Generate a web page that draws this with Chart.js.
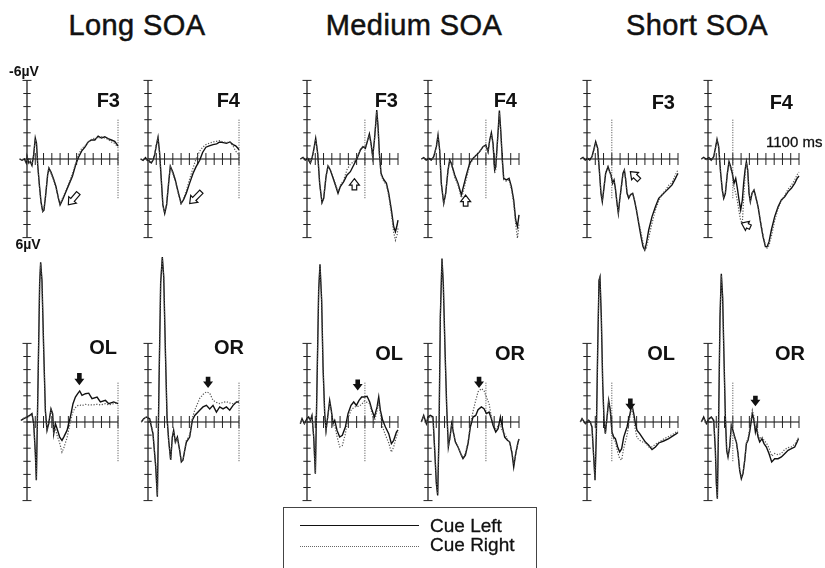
<!DOCTYPE html>
<html>
<head>
<meta charset="utf-8">
<script src="https://cdn.jsdelivr.net/npm/chart.js@4.4.1/dist/chart.umd.min.js"></script>
<style>
  html, body { margin: 0; padding: 0; background: #fff; }
  #fig { position: relative; width: 825px; height: 568px; overflow: hidden; font-family: "Liberation Sans", Arial, sans-serif; color: #111; }
  #fig canvas { position: absolute; }
  .txt { position: absolute; white-space: nowrap; line-height: 1; }
  .legend-box { position: absolute; left: 283px; top: 507px; width: 252px; height: 80px; border: 1px solid #444; }
  .legend-line { position: absolute; left: 300px; width: 119px; height: 0; }
</style>
</head>
<body>
<div id="fig"></div>
<script>
// ---- data (ms, µV; negative plotted up) ----
const soaNames = ['Long SOA', 'Medium SOA', 'Short SOA'];
const targetOnset = [1100, 700, 300];     // dotted vertical marker, one per SOA
const markerSpan = [-3, 3];

const longF3Time  = [-90,-60,-30,-10,0,20,40,60,80,100,115,130,150,170,190,205,225,250,265,290,320,350,380,400,430,470,510,550,590,620,660,700,740,780,820,860,900,940,980,1020,1060,1100];
const longF3Left  = [0,0.1,0,0.3,-0.2,0.3,0.2,0.5,-0.3,-1.6,-1.2,0.5,2.0,3.3,4.0,3.9,2.8,1.2,0.7,1.0,1.5,2.1,3.0,3.5,3.1,2.5,1.9,1.3,0.4,-0.1,-0.6,-0.9,-1.3,-1.45,-1.45,-1.75,-1.6,-1.7,-1.55,-1.45,-1.35,-1.0];
const longF3Right = [0,0,0.1,0.2,-0.1,0.4,0.1,0.4,-0.2,-1.5,-1.1,0.6,2.1,3.4,4.0,3.8,2.7,1.1,0.7,1.1,1.6,2.2,3.0,3.4,3.0,2.4,1.8,1.1,0.3,-0.3,-0.8,-1.0,-1.3,-1.5,-1.6,-1.6,-1.7,-1.6,-1.5,-1.3,-1.2,-0.9];

const longF4Time  = [-90,-60,-30,-10,0,20,40,60,80,100,121,140,160,180,202,225,250,270,300,330,360,400,430,464,500,544,580,625,660,700,740,786,830,867,910,948,990,1028,1060,1089,1100];
const longF4Left  = [0,0.1,-0.1,0.1,0,0.2,0.3,0.1,-0.3,-1.0,-1.65,-0.5,1.5,3.5,4.15,3.5,1.8,0.55,1.0,1.6,2.4,3.4,3.1,2.6,1.9,1.1,0.6,0.1,-0.5,-0.9,-1.0,-1.1,-1.15,-1.3,-1.25,-1.2,-1.3,-1.1,-1.0,-0.8,-0.7];
const longF4Right = [0,0,0,0.1,-0.1,0.3,0.2,0,-0.4,-1.1,-1.6,-0.4,1.6,3.6,4.1,3.4,1.7,0.6,1.1,1.7,2.5,3.4,3.0,2.4,1.6,0.7,0.0,-0.6,-0.9,-1.1,-1.2,-1.3,-1.35,-1.4,-1.3,-1.25,-1.3,-1.0,-0.6,-0.4,-0.3];

const longOLTime  = [-73,-40,0,32,60,81,101,113,133,153,165,181,202,222,242,262,290,310,323,343,363,395,423,444,484,524,556,585,613,637,665,706,746,786,847,887,948,988,1048,1100];
const longOLLeft  = [-0.13,-0.25,-0.38,-0.5,-0.64,0.13,2.4,4.45,-2.9,-10.6,-12.2,-10.8,-5.5,-0.9,0.64,0.13,-1.0,-0.64,0.9,0.13,0.5,1.15,1.4,1.15,0.64,-0.38,-1.4,-1.9,-2.16,-2.37,-2.04,-2.16,-2.2,-1.78,-1.9,-1.53,-1.65,-1.4,-1.53,-1.4];
const longOLRight = [-0.1,-0.3,-0.4,-0.4,-0.6,0.2,2.5,4.4,-3.0,-10.7,-12.1,-10.6,-5.3,-0.8,0.7,0.2,-0.9,-0.5,0.8,0.5,1.0,1.6,2.3,2.0,1.2,0.0,-0.8,-1.1,-1.25,-1.3,-1.25,-1.35,-1.3,-1.3,-1.35,-1.3,-1.4,-1.3,-1.4,-1.45];

const longORTime  = [-81,-52,-20,20,60,93,113,133,153,173,190,210,230,250,274,294,310,331,355,383,403,423,444,464,504,536,565,625,665,706,746,786,827,867,907,948,988,1028,1069,1100];
const longORLeft  = [0,-0.25,-0.38,-0.25,0.9,3.4,5.7,-2.9,-10.6,-12.6,-11.1,-5.5,-0.38,1.4,2.9,1.15,0.64,1.53,1.15,2.16,3.05,2.9,2.16,1.53,1.15,-0.13,-0.5,-0.9,-1.15,-1.27,-1.0,-1.27,-0.76,-1.15,-1.0,-1.15,-0.9,-1.27,-1.53,-1.53];
const longORRight = [0,-0.2,-0.4,-0.2,0.8,3.3,5.6,-3.0,-10.7,-12.5,-11.0,-5.4,-0.3,1.5,2.9,1.2,0.7,1.6,1.2,2.2,3.0,2.9,2.1,1.4,1.0,-0.3,-0.9,-1.8,-2.1,-2.3,-2.2,-1.65,-1.5,-1.4,-1.5,-1.55,-1.45,-1.4,-1.5,-1.55];

const medF3Time  = [-81,-48,-20,8,40,60,81,105,129,153,181,202,230,254,282,310,343,375,403,444,484,524,565,605,645,677,706,734,754,774,794,815,831,843,859,875,895,919,960,988,1020,1048,1069,1089,1100];
const medF3Left  = [0,-0.13,0.08,-0.05,0.33,-0.05,-0.7,-1.58,-0.43,1.86,3.33,3.0,1.35,0.53,0.84,1.35,1.98,2.62,2.11,1.73,1.22,0.97,0.46,-0.05,-0.69,-0.94,-0.81,-1.45,-1.91,-1.2,-0.18,-1.45,-2.72,-3.74,-2.47,-0.43,1.09,1.48,1.86,2.62,3.89,5.17,5.55,5.04,4.66];
const medF3Right = [0,-0.1,0.1,0,0.3,0,-0.6,-1.5,-0.4,1.9,3.3,2.9,1.3,0.5,0.8,1.3,1.9,2.5,2.0,1.6,0.8,0.4,0.2,-0.1,-0.7,-1.0,-0.9,-1.5,-1.8,-1.1,-0.1,-1.4,-2.6,-3.6,-2.4,-0.3,1.2,1.6,2.0,2.8,4.2,5.6,6.2,5.8,5.3];

const medF4Time  = [-81,-52,-20,12,40,69,101,121,141,161,190,214,242,262,282,323,363,403,423,464,504,544,585,625,665,698,726,746,766,786,806,819,835,851,863,879,899,915,948,980,1008,1036,1060,1081,1100];
const medF4Left  = [0,-0.1,0.08,-0.05,0.08,-0.18,-0.94,-1.83,-0.69,1.86,3.38,2.62,0.84,0.08,0.33,1.22,1.86,2.75,2.24,1.22,0.33,-0.05,-0.31,-0.56,-0.94,-1.07,-0.56,-1.45,-2.01,-1.2,0.84,0.59,-0.94,-2.47,-3.69,-2.21,0.08,1.48,1.6,1.48,2.11,3.13,4.66,5.17,4.27];
const medF4Right = [0,-0.1,0.1,0,0.1,-0.2,-0.9,-1.8,-0.6,1.9,3.4,2.6,0.9,0.2,0.4,1.4,2.0,2.95,2.6,1.5,0.5,0.0,-0.3,-0.6,-0.9,-1.1,-0.5,-1.4,-1.9,-1.1,1.1,0.8,-0.8,-2.3,-3.5,-2.0,0.2,1.6,1.7,1.6,2.3,3.4,5.0,6.05,5.0];

const medOLTime  = [-81,-60,-32,0,20,40,60,81,101,121,141,157,177,194,214,230,250,274,294,315,335,363,395,427,464,496,532,565,597,629,661,694,726,758,786,815,847,867,887,915,948,988,1020,1048,1081,1100];
const medOLLeft  = [0.13,-0.25,0.13,-0.25,-0.38,-0.13,-0.5,1.15,3.94,-2.93,-10.05,-12.04,-9.29,-4.2,-0.64,0.64,-0.38,-1.65,-0.89,0.13,-0.13,0.64,1.15,1.02,0.38,-0.64,-1.27,-1.53,-1.27,-1.65,-1.91,-1.91,-1.96,-1.53,-0.89,-0.38,-1.15,-1.91,-0.89,-0.13,0.38,0.89,1.65,1.4,0.76,0.6];
const medOLRight = [0.1,-0.2,0.1,-0.2,-0.3,-0.1,-0.4,1.2,3.9,-3.0,-10.1,-11.9,-9.2,-4.1,-0.5,0.7,-0.3,-1.5,-0.8,0.3,0.2,1.1,1.9,1.8,0.9,-0.3,-0.9,-1.1,-1.2,-1.2,-1.35,-1.6,-1.5,-1.4,-0.6,0.0,-0.9,-1.5,-0.6,0.4,1.0,1.6,2.3,1.9,1.1,0.8];

const medORTime  = [-81,-52,-20,0,28,60,81,101,117,133,149,169,185,206,226,246,266,286,306,331,363,403,423,452,484,512,544,577,605,645,677,706,738,766,786,819,847,875,899,927,960,988,1016,1036,1060,1089,1100];
const medORLeft  = [0,-0.5,0.13,-0.38,-0.5,-0.38,2.16,4.7,5.6,0.89,-8.0,-12.47,-10.56,-5.47,-1.15,1.91,1.15,0.13,0.76,1.53,1.91,2.54,2.8,2.54,1.65,0.38,-0.38,-0.5,-0.94,-1.15,-1.02,-0.64,-0.76,-0.25,0.25,0.76,0.51,-0.38,0.38,1.15,1.4,1.53,2.42,3.44,2.42,1.53,1.3];
const medORRight = [0,-0.4,0.1,-0.3,-0.4,-0.3,2.1,4.6,5.5,0.8,-8.1,-12.4,-10.4,-5.3,-1.0,1.9,1.2,0.2,0.8,1.5,1.9,2.5,2.7,2.4,1.5,0.2,-0.8,-1.65,-2.3,-2.55,-2.4,-1.9,-1.4,-0.4,0.1,0.5,0.3,0.2,0.7,0.9,1.3,1.6,2.3,3.2,2.5,1.5,1.3];

const shortF3Time  = [-81,-48,-20,8,32,60,81,105,129,149,169,185,202,226,254,274,290,310,327,343,363,379,395,415,435,452,468,484,504,524,552,573,597,625,653,677,698,718,746,786,827,867,907,948,988,1028,1069,1089,1100];
const shortF3Left  = [0,-0.13,0.08,-0.05,0.08,-0.18,-0.69,-1.32,-0.81,0.84,2.62,3.26,2.37,1.09,0.59,0.97,1.22,1.86,1.6,2.24,3.38,4.15,3.13,2.11,1.09,0.84,1.6,2.62,3.0,2.75,2.62,3.13,3.89,4.91,5.93,6.69,6.95,6.44,5.42,4.4,3.64,3.0,2.75,2.49,2.24,1.98,1.48,1.22,1.1];
const shortF3Right = [0,-0.1,0.1,0,0.1,-0.1,-0.6,-1.25,-0.8,0.9,2.6,3.2,2.3,1.0,0.6,1.0,1.3,1.9,1.7,2.3,3.4,4.1,3.2,2.2,1.2,0.9,1.5,2.5,2.9,2.7,2.6,3.1,3.8,4.8,5.6,6.4,6.9,6.8,6.0,4.9,3.9,3.2,2.7,2.4,2.0,1.8,1.2,0.95,0.85];

const shortF4Time  = [-81,-52,-20,12,40,69,89,109,129,153,173,190,210,234,254,274,294,315,335,355,375,395,415,431,448,464,480,496,512,532,556,577,605,637,665,694,714,738,766,806,847,887,927,968,1008,1048,1077,1100];
const shortF4Left  = [0,-0.13,0.03,-0.1,0.08,-0.18,-0.81,-1.5,-0.94,1.09,2.37,3.0,2.62,1.09,0.2,0.59,1.09,1.86,1.48,2.24,3.13,3.89,3.13,1.86,0.84,0.2,0.84,2.62,3.26,2.62,2.37,2.88,3.64,4.91,5.93,6.69,6.69,6.31,5.42,4.4,3.64,3.13,2.88,2.49,2.24,1.86,1.48,1.3];
const shortF4Right = [0,-0.1,0.05,-0.05,0.1,-0.15,-0.75,-1.45,-0.9,1.1,2.4,3.0,2.6,1.1,0.3,0.7,1.2,2.2,2.6,3.2,4.0,4.7,4.9,3.0,1.3,0.3,0.9,2.6,3.2,2.6,2.4,2.9,3.6,4.8,5.8,6.6,6.8,6.6,5.9,4.7,3.8,3.2,2.8,2.3,2.0,1.6,1.2,1.0];

const shortOLTime  = [-81,-60,-20,20,40,60,81,97,113,129,145,157,173,190,206,222,242,262,282,302,323,343,371,395,419,444,464,484,500,516,532,548,565,585,605,637,665,706,746,786,827,867,927,988,1048,1081,1100];
const shortOLLeft  = [0,-0.25,0.13,-0.13,0,0.38,2.67,4.45,0.89,-5.47,-10.81,-11.07,-8.02,-2.93,-0.13,0.89,-0.38,-1.65,-0.89,0.76,1.15,1.27,1.91,2.29,2.04,1.15,0.76,0.38,-0.13,-0.51,-1.02,-1.15,-0.64,0.13,0.64,0.89,1.15,1.53,1.78,2.11,1.91,1.6,1.45,1.27,1.02,0.89,0.8];
const shortOLRight = [0,-0.2,0.1,-0.1,0,0.4,2.6,4.4,0.9,-5.4,-10.7,-11.0,-7.9,-2.8,0,0.9,-0.3,-1.5,-0.8,0.9,1.3,1.5,2.3,2.8,2.9,2.0,1.5,1.0,0.4,-0.3,-0.8,-1.0,-0.2,0.6,1.2,1.4,1.5,1.6,1.9,1.9,1.7,1.55,1.3,1.1,0.9,0.75,0.7];

const shortORTime  = [-81,-52,-20,12,40,69,89,101,113,129,145,161,177,194,210,226,242,262,282,302,323,343,363,383,403,423,444,464,484,504,524,536,552,573,585,605,625,653,677,706,738,770,806,847,887,927,968,1008,1048,1077,1093];
const shortORLeft  = [0,-0.38,0.13,-0.25,-0.38,-0.13,2.16,4.7,5.85,-0.38,-8.02,-11.32,-9.54,-4.71,-0.38,2.16,2.67,1.91,0.25,0.64,1.15,1.53,2.42,3.69,4.33,3.94,2.93,1.65,1.4,0.76,-0.13,-0.64,-0.25,0.76,0.38,1.15,1.53,1.27,1.65,1.91,2.42,3.05,2.8,2.8,2.67,2.42,2.16,2.04,1.91,1.53,1.27];
const shortORRight = [0,-0.3,0.1,-0.2,-0.3,-0.1,2.1,4.6,5.8,-0.4,-8.0,-11.2,-9.4,-4.6,-0.3,2.1,2.6,1.9,0.3,0.7,1.2,1.5,2.4,3.6,4.2,3.9,2.9,1.6,1.2,0.5,-0.4,-0.9,-0.5,0.5,0.2,0.9,1.3,1.1,1.4,1.6,2.0,2.6,2.4,2.5,2.4,2.1,1.95,1.9,1.7,1.4,1.2];

// arrow annotations: [tip ms, tip µV, tail ms, tail µV]
const arrowLongF3  = [500, 3.5, 620, 2.6];
const arrowLongF4  = [504, 3.4, 645, 2.5];
const arrowMedF3   = [573, 1.5, 573, 2.35];
const arrowMedF4   = [455, 2.75, 455, 3.6];
const arrowShortF3 = [524, 0.97, 629, 1.6];
const arrowShortF4 = [405, 4.9, 512, 5.2];
const arrowLongOL  = [633, -2.8, 633, -3.75];
const arrowLongOR  = [726, -2.6, 726, -3.45];
const arrowMedOL   = [613, -2.4, 613, -3.25];
const arrowMedOR   = [617, -2.6, 617, -3.45];
const arrowShortOL = [524, -0.9, 524, -1.8];
const arrowShortOR = [573, -1.2, 573, -2.0];

// ---- layout ----
const MS_PX = 91 / 1100;
const UV_PX = 13.1;
const axisX = [26.7, 148.3, 306.7, 428.3, 586.7, 708.3];
const rowZero = [159, 422];
const rowRange = [[-7, 7], [-13.5, 7]];
const rowCanvas = [[60, 195], [240, 280]];
const CANVAS_W = 135, LEFT_MARGIN = 30;

const panels = [
  { row: 0, col: 0, soa: 0, time: longF3Time,  left: longF3Left,  right: longF3Right,  arrow: arrowLongF3,  filled: false },
  { row: 0, col: 1, soa: 0, time: longF4Time,  left: longF4Left,  right: longF4Right,  arrow: arrowLongF4,  filled: false },
  { row: 0, col: 2, soa: 1, time: medF3Time,   left: medF3Left,   right: medF3Right,   arrow: arrowMedF3,   filled: false },
  { row: 0, col: 3, soa: 1, time: medF4Time,   left: medF4Left,   right: medF4Right,   arrow: arrowMedF4,   filled: false },
  { row: 0, col: 4, soa: 2, time: shortF3Time, left: shortF3Left, right: shortF3Right, arrow: arrowShortF3, filled: false },
  { row: 0, col: 5, soa: 2, time: shortF4Time, left: shortF4Left, right: shortF4Right, arrow: arrowShortF4, filled: false },
  { row: 1, col: 0, soa: 0, time: longOLTime,  left: longOLLeft,  right: longOLRight,  arrow: arrowLongOL,  filled: true },
  { row: 1, col: 1, soa: 0, time: longORTime,  left: longORLeft,  right: longORRight,  arrow: arrowLongOR,  filled: true },
  { row: 1, col: 2, soa: 1, time: medOLTime,   left: medOLLeft,   right: medOLRight,   arrow: arrowMedOL,   filled: true },
  { row: 1, col: 3, soa: 1, time: medORTime,   left: medORLeft,   right: medORRight,   arrow: arrowMedOR,   filled: true },
  { row: 1, col: 4, soa: 2, time: shortOLTime, left: shortOLLeft, right: shortOLRight, arrow: arrowShortOL, filled: true },
  { row: 1, col: 5, soa: 2, time: shortORTime, left: shortORLeft, right: shortORRight, arrow: arrowShortOR, filled: true }
];

const fig = document.getElementById('fig');

// axes drawn at t = 0 / 0 µV, plus the arrow marker
function makeErpPlugin(panel) {
  return {
    id: 'erpAxes',
    beforeDatasetsDraw(chart) {
      const { ctx, scales: { x, y } } = chart;
      const x0 = x.getPixelForValue(0), y0 = y.getPixelForValue(0);
      ctx.save();
      ctx.lineCap = 'butt';
      // time axis
      ctx.strokeStyle = '#808080';
      ctx.lineWidth = 2.2;
      ctx.beginPath();
      ctx.moveTo(x0, y0);
      ctx.lineTo(x.getPixelForValue(1100), y0);
      ctx.stroke();
      ctx.strokeStyle = '#222';
      ctx.lineWidth = 1;
      ctx.beginPath();
      for (let t = 100; t <= 1100; t += 100) {
        const px = x.getPixelForValue(t);
        ctx.moveTo(px, y0 - 6);
        ctx.lineTo(px, y0 + 6);
      }
      ctx.stroke();
      // amplitude axis
      ctx.lineWidth = 1.3;
      ctx.beginPath();
      ctx.moveTo(x0, y.getPixelForValue(-6));
      ctx.lineTo(x0, y.getPixelForValue(6));
      ctx.stroke();
      ctx.lineWidth = 1;
      ctx.beginPath();
      for (let v = -6; v <= 6; v++) {
        const py = y.getPixelForValue(v);
        const half = Math.abs(v) === 6 ? 4.5 : 3.7;
        ctx.moveTo(x0 - half, py);
        ctx.lineTo(x0 + half, py);
      }
      ctx.stroke();
      ctx.restore();
    },
    afterDatasetsDraw(chart) {
      const { ctx, scales: { x, y } } = chart;
      const [tipT, tipV, tailT, tailV] = panel.arrow;
      const tx = x.getPixelForValue(tipT), ty = y.getPixelForValue(tipV);
      const sx = x.getPixelForValue(tailT), sy = y.getPixelForValue(tailV);
      const len = Math.hypot(tx - sx, ty - sy);
      const ux = (tx - sx) / len, uy = (ty - sy) / len;
      const nx = -uy, ny = ux;
      const head = 6.5, hw = 5, sw = 2.3;
      const bx = tx - ux * head, by = ty - uy * head;
      ctx.save();
      ctx.beginPath();
      ctx.moveTo(tx, ty);
      ctx.lineTo(bx + nx * hw, by + ny * hw);
      ctx.lineTo(bx + nx * sw, by + ny * sw);
      ctx.lineTo(sx + nx * sw, sy + ny * sw);
      ctx.lineTo(sx - nx * sw, sy - ny * sw);
      ctx.lineTo(bx - nx * sw, by - ny * sw);
      ctx.lineTo(bx - nx * hw, by - ny * hw);
      ctx.closePath();
      if (panel.filled) {
        ctx.fillStyle = '#111';
        ctx.fill();
      } else {
        ctx.fillStyle = '#fff';
        ctx.fill();
        ctx.strokeStyle = '#111';
        ctx.lineWidth = 1.2;
        ctx.stroke();
      }
      ctx.restore();
    }
  };
}

panels.forEach(p => {
  const [top, height] = rowCanvas[p.row];
  const [ymin, ymax] = rowRange[p.row];
  const canvas = document.createElement('canvas');
  canvas.width = CANVAS_W;
  canvas.height = height;
  canvas.style.left = (axisX[p.col] - LEFT_MARGIN) + 'px';
  canvas.style.top = top + 'px';
  fig.appendChild(canvas);

  const padLeft = LEFT_MARGIN - 100 * MS_PX;
  const padRight = CANVAS_W - padLeft - 1200 * MS_PX;
  const padTop = rowZero[p.row] + ymin * UV_PX - top;
  const padBottom = top + height - (rowZero[p.row] + ymax * UV_PX);

  const onset = targetOnset[p.soa];

  new Chart(canvas.getContext('2d'), {
    type: 'line',
    data: {
      datasets: [
        {
          label: 'Cue Right',
          data: p.time.map((t, i) => ({ x: t, y: p.right[i] })),
          borderColor: '#555',
          borderWidth: 1.2,
          borderDash: [1.2, 1.6],
          clip: false
        },
        {
          label: 'Cue Left',
          data: p.time.map((t, i) => ({ x: t, y: p.left[i] })),
          borderColor: '#111',
          borderWidth: 1.4,
          clip: false
        },
        {
          label: 'Target',
          data: markerSpan.map(v => ({ x: onset, y: v })),
          borderColor: '#444',
          borderWidth: 1,
          borderDash: [1, 1.5],
          clip: false
        }
      ]
    },
    options: {
      responsive: false,
      animation: false,
      devicePixelRatio: 1,
      layout: { padding: { left: padLeft, right: padRight, top: padTop, bottom: padBottom } },
      elements: { point: { radius: 0 }, line: { tension: 0, fill: false } },
      plugins: { legend: { display: false }, tooltip: { enabled: false } },
      scales: {
        x: { type: 'linear', min: -100, max: 1100, display: false },
        y: { type: 'linear', min: ymin, max: ymax, reverse: true, display: false }
      }
    },
    plugins: [makeErpPlugin(p)]
  });
});

// ---- text ----
function addText(str, x, baseline, size, opts = {}) {
  const d = document.createElement('div');
  d.className = 'txt';
  d.textContent = str;
  d.style.fontSize = size + 'px';
  d.style.top = (baseline - 0.8465 * size) + 'px';
  d.style.left = x + 'px';
  if (opts.bold) d.style.fontWeight = 'bold';
  if (opts.spacing) d.style.letterSpacing = opts.spacing + 'px';
  if (opts.stroke) d.style.webkitTextStroke = opts.stroke + 'px #111';
  if (opts.align === 'center') d.style.transform = 'translateX(-50%)';
  if (opts.align === 'right') d.style.transform = 'translateX(-100%)';
  fig.appendChild(d);
}

const titleCenters = [137, 414, 697];
soaNames.forEach((name, i) => addText(name, titleCenters[i], 36, 29, { align: 'center', spacing: 0.4, stroke: 0.5 }));

addText('-6\u00B5V', 24, 76, 14, { align: 'center', bold: true });
addText('6\u00B5V', 28, 249, 14, { align: 'center', bold: true });
addText('1100 ms', 766, 147, 15, { stroke: 0.3 });

const topLabels = [['F3', 120, 107], ['F4', 240, 107], ['F3', 398, 107], ['F4', 517, 107], ['F3', 675, 109], ['F4', 793, 109]];
const bottomLabels = [['OL', 117, 354], ['OR', 244, 354], ['OL', 403, 360], ['OR', 525, 360], ['OL', 675, 360], ['OR', 805, 360]];
topLabels.concat(bottomLabels).forEach(([s, x, b]) => addText(s, x, b, 20, { align: 'right', bold: true }));

// ---- legend ----
const box = document.createElement('div');
box.className = 'legend-box';
fig.appendChild(box);
const solid = document.createElement('div');
solid.className = 'legend-line';
solid.style.top = '525px';
solid.style.borderTop = '1.5px solid #111';
fig.appendChild(solid);
const dotted = document.createElement('div');
dotted.className = 'legend-line';
dotted.style.top = '546px';
dotted.style.borderTop = '1.5px dotted #666';
fig.appendChild(dotted);
addText('Cue Left', 430, 532, 19, { stroke: 0.3 });
addText('Cue Right', 430, 551.5, 19, { stroke: 0.3 });
</script>
</body>
</html>
